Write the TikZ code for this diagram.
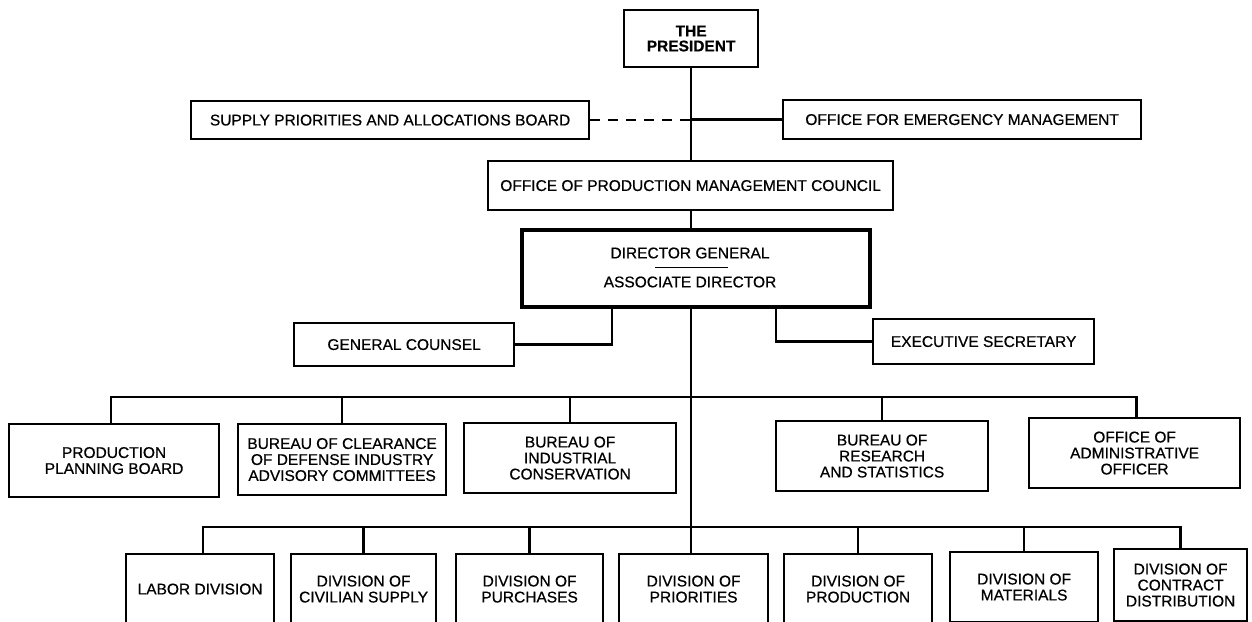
\documentclass[tikz,border=0pt]{standalone}
\usepackage{fontspec}
\setmainfont{Liberation Sans}
\newfontfamily\medfont{Liberation Sans}[FakeBold=0.6]
\newfontfamily\heavyfont{Liberation Sans Bold}[FakeBold=0.5]
\begin{document}
\begin{tikzpicture}[x=1pt,y=-1pt,
  every node/.style={font=\medfont\fontsize{15.5}{16}\selectfont},
  box/.style={draw, line width=2.2pt, inner sep=0pt, align=center, anchor=north west},
  thickbox/.style={box, line width=3.8pt},
  link/.style={line width=2.3pt},
  dashlink/.style={line width=2.3pt, dash pattern=on 10pt off 8pt}]
\useasboundingbox (0,0) rectangle (1252,621);
% top
\node[box, minimum width=134pt, minimum height=57pt, font=\heavyfont\fontsize{15.5}{15}\selectfont] (pres) at (623,9) {THE\\PRESIDENT};
\node[box, minimum width=398pt, minimum height=38pt] (spab) at (190,100) {SUPPLY PRIORITIES AND ALLOCATIONS BOARD};
\node[box, minimum width=358pt, minimum height=39pt] (oem) at (782,99) {OFFICE FOR EMERGENCY MANAGEMENT};
\node[box, minimum width=405pt, minimum height=49pt] (opmc) at (487,160) {OFFICE OF PRODUCTION MANAGEMENT COUNCIL};
\node[thickbox, minimum width=348pt, minimum height=77pt] (dg) at (520,228) {};
\node (dgone) at (690,253) {DIRECTOR GENERAL};
\node (dgtwo) at (690,282) {ASSOCIATE DIRECTOR};
\draw[line width=1pt] ([xshift=-35pt]dgone.south |- 0,267) -- ([xshift=38pt]dgone.south |- 0,267);
\node[box, minimum width=220pt, minimum height=43pt] (gc) at (293,322) {GENERAL COUNSEL};
\node[box, minimum width=221pt, minimum height=45pt] (es) at (872,318) {EXECUTIVE SECRETARY};
% bureaus
\node[box, minimum width=210pt, minimum height=73pt] (ppb) at (8,423) {PRODUCTION\\PLANNING BOARD};
\node[box, minimum width=208pt, minimum height=71pt] (bc) at (237,423) {BUREAU OF CLEARANCE\\OF DEFENSE INDUSTRY\\ADVISORY COMMITTEES};
\node[box, minimum width=212pt, minimum height=70pt] (bic) at (463,422) {BUREAU OF\\INDUSTRIAL\\CONSERVATION};
\node[box, minimum width=212pt, minimum height=70pt] (brs) at (775,420) {BUREAU OF\\RESEARCH\\AND STATISTICS};
\node[box, minimum width=211pt, minimum height=70pt] (oao) at (1028,417) {OFFICE OF\\ADMINISTRATIVE\\OFFICER};
% divisions
\node[box, minimum width=148pt, minimum height=70pt] (lab) at (125,553) {LABOR DIVISION};
\node[box, minimum width=145pt, minimum height=70pt] (civ) at (290,553) {DIVISION OF\\CIVILIAN SUPPLY};
\node[box, minimum width=147pt, minimum height=70pt] (pur) at (455,553) {DIVISION OF\\PURCHASES};
\node[box, minimum width=149pt, minimum height=70pt] (pri) at (618,553) {DIVISION OF\\PRIORITIES};
\node[box, minimum width=148pt, minimum height=70pt] (prd) at (783,553) {DIVISION OF\\PRODUCTION};
\node[box, minimum width=148pt, minimum height=70pt] (mat) at (949,551) {DIVISION OF\\MATERIALS};
\node[box, minimum width=133pt, minimum height=72pt] (cd) at (1113,548) {DIVISION OF\\CONTRACT\\DISTRIBUTION};
% bus coordinates
\coordinate (busone) at (690,397);
\coordinate (bustwo) at (690,527);
% connectors
\draw[link] (pres.south) -- (pres.south |- opmc.north);
\draw[dashlink] (spab.east) -- (spab.east -| pres.south);
\draw[link] (pres.south |- oem.west) -- (oem.west);
\draw[link] (pres.south |- opmc.south) -- (pres.south |- dg.north);
\draw[link] ([xshift=-84pt]dg.south) |- (gc.east);
\draw[link] ([xshift=80pt]dg.south) |- (es.west);
\draw[link] (pres.south |- dg.south) -- (pres.south |- pri.north);
\draw[link] ([xshift=-3pt]ppb.north) |- (busone) -| ([xshift=2pt]oao.north);
\draw[link] (bc.north) -- (bc.north |- busone);
\draw[link] (bic.north) -- (bic.north |- busone);
\draw[link] (brs.north) -- (brs.north |- busone);
\draw[link] ([xshift=3pt]lab.north) |- (bustwo) -| (cd.north);
\draw[link] (civ.north) -- (civ.north |- bustwo);
\draw[link] (pur.north) -- (pur.north |- bustwo);
\draw[link] (prd.north) -- (prd.north |- bustwo);
\draw[link] (mat.north) -- (mat.north |- bustwo);
\end{tikzpicture}
\end{document}
